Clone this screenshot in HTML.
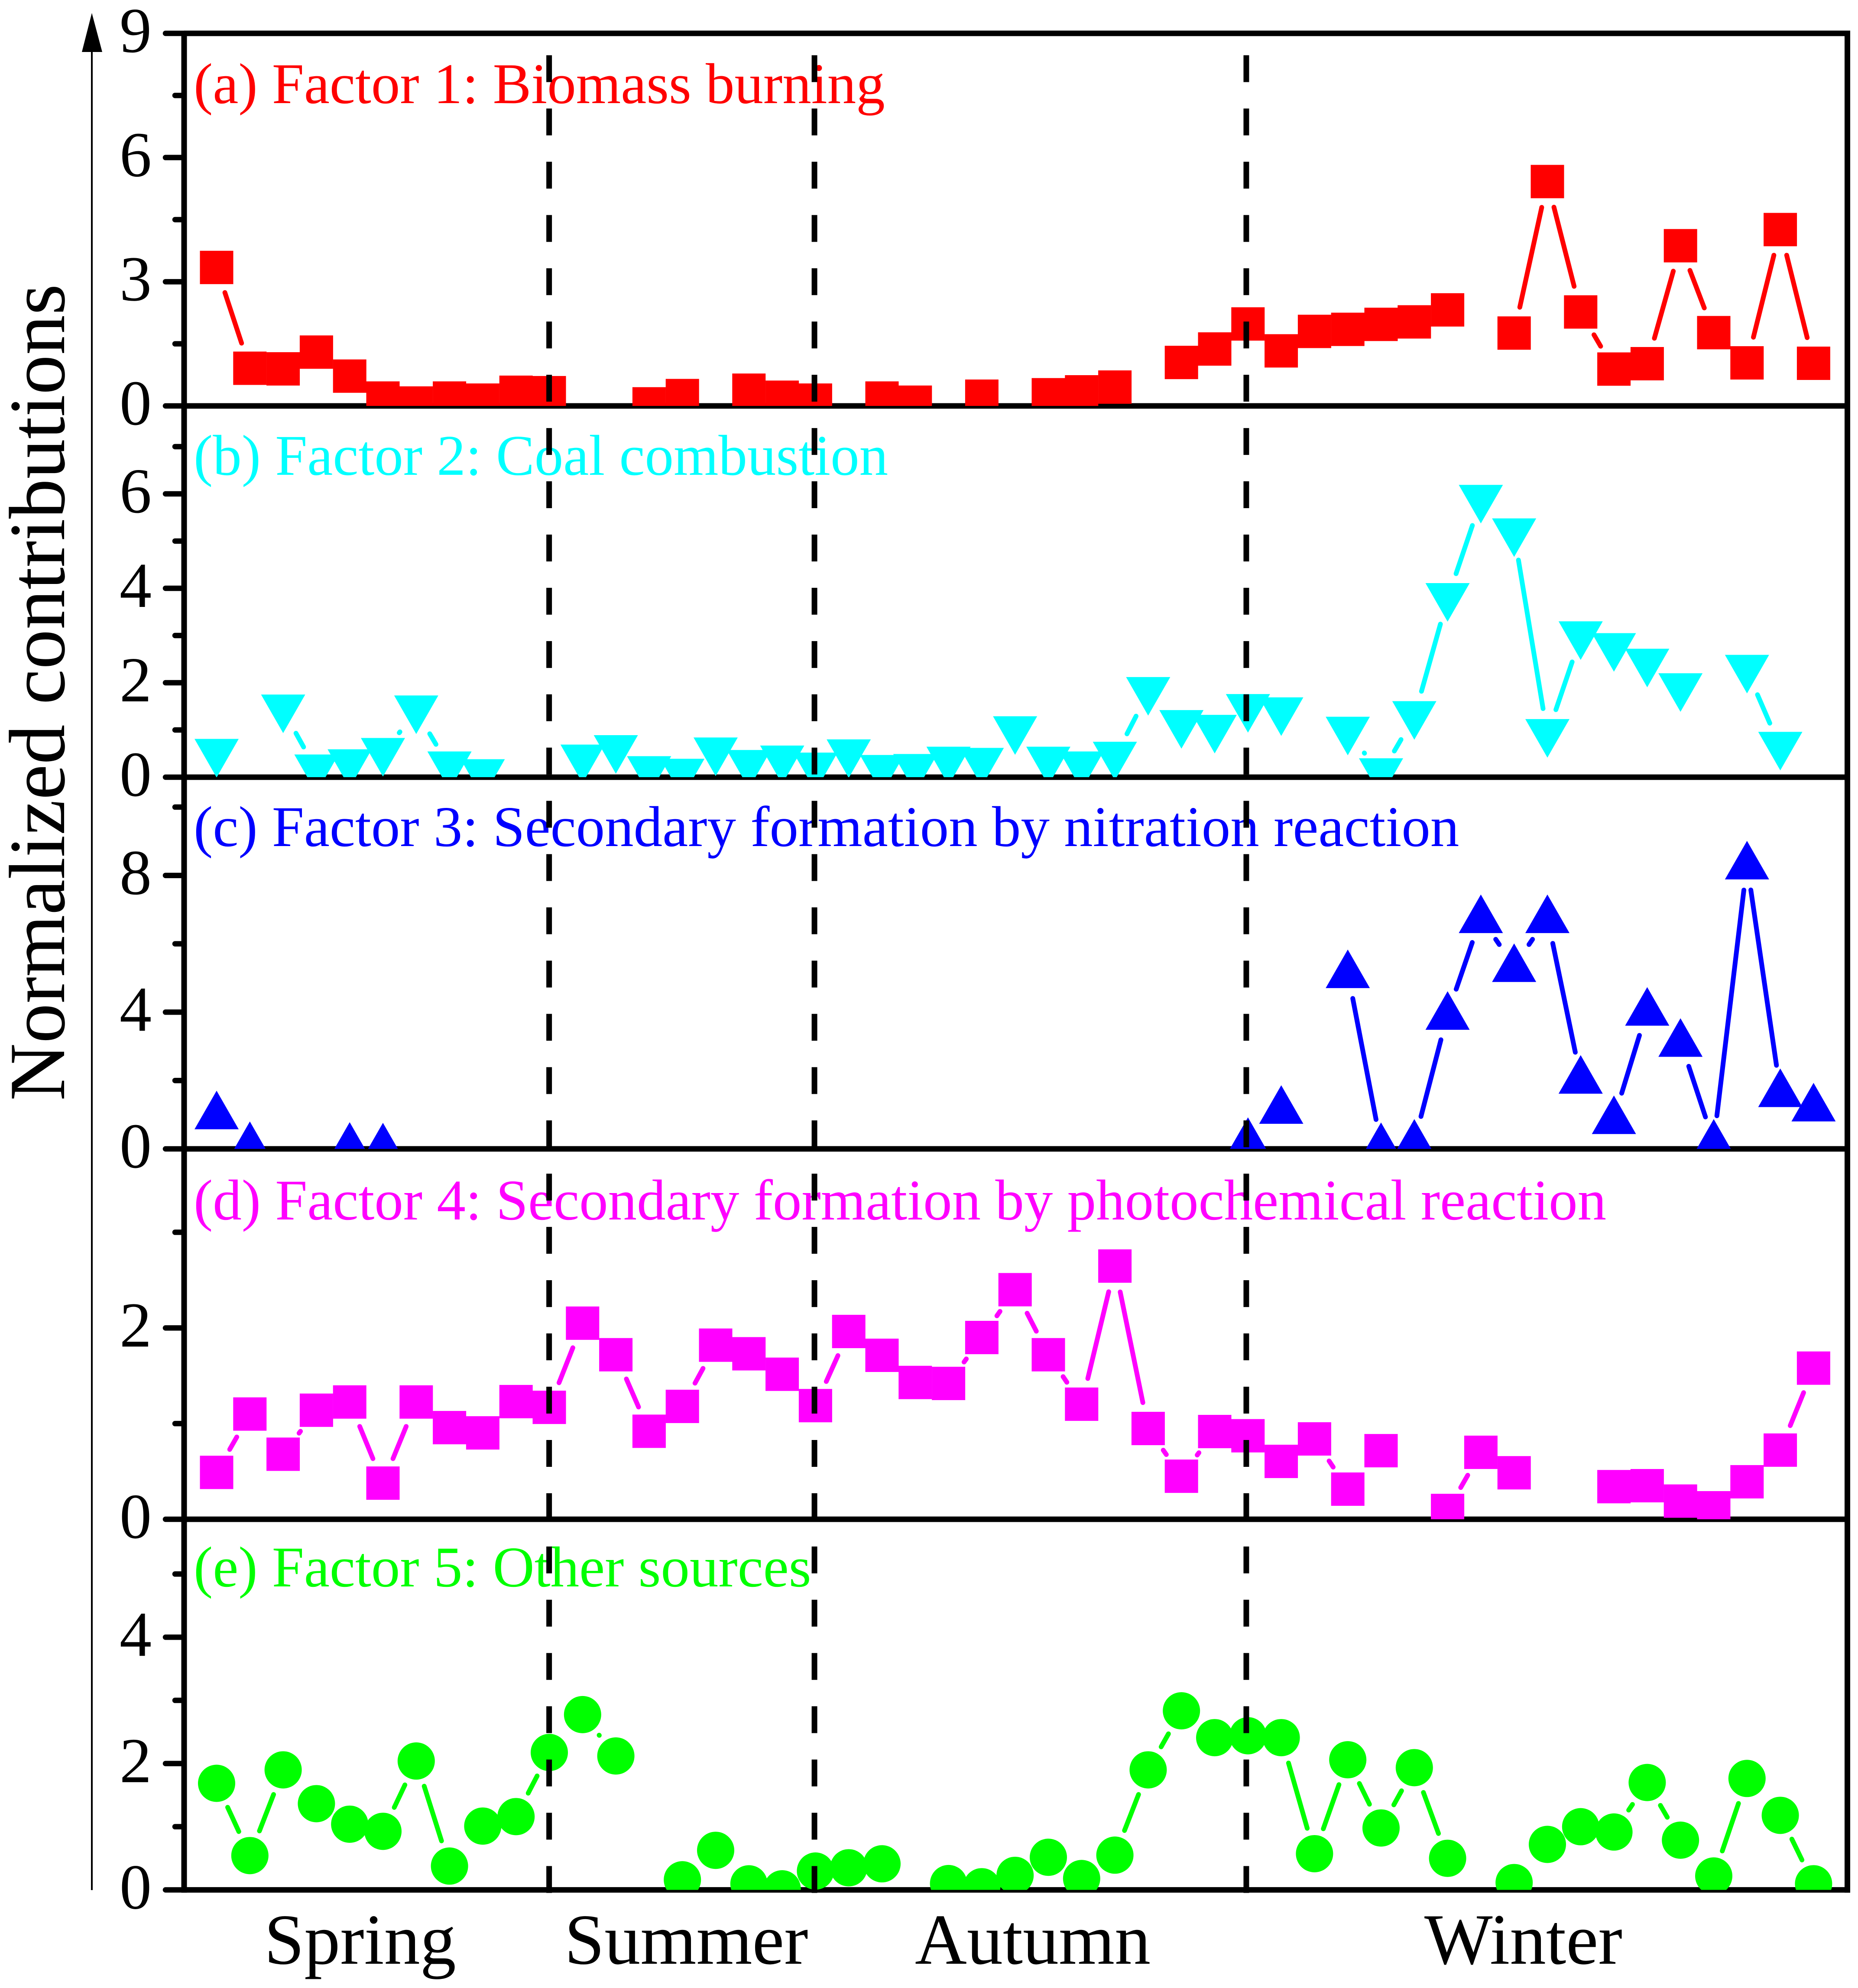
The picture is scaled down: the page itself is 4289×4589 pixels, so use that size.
<!DOCTYPE html>
<html lang="en">
<head>
<meta charset="utf-8">
<title>Normalized contributions of five factors by season</title>
<style>
html,body{margin:0;padding:0;background:#fff;}
svg{display:block;font-family:"Liberation Serif",serif;}
</style>
</head>
<body>
<svg id="chart" xmlns="http://www.w3.org/2000/svg" width="4289" height="4589" viewBox="0 0 4289 4589">
  <rect x="0" y="0" width="4289" height="4589" fill="#fff"/>
  <text transform="translate(148,2541) rotate(-90)" font-size="184" fill="#000">Normalized contributions</text>
  <line x1="212" y1="4363" x2="212" y2="110" stroke="#000" stroke-width="4"/>
  <polygon points="212,30 189,120 236,120" fill="#000"/>
  <g id="layer-text">
    <text x="447" y="238" font-size="133" fill="#ff0000">(a) Factor 1: Biomass burning</text>
    <text x="447" y="1096" font-size="133" fill="#00ffff">(b) Factor 2: Coal combustion</text>
    <text x="447" y="1953" font-size="133" fill="#0000ff">(c) Factor 3: Secondary formation by nitration reaction</text>
    <text x="447" y="2815" font-size="133" fill="#ff00ff">(d) Factor 4: Secondary formation by photochemical reaction</text>
    <text x="447" y="3662" font-size="133" fill="#00ff00">(e) Factor 5: Other sources</text>
  </g>
  <g id="layer-axes"></g>
  <g id="layer-series"></g>
  <g id="layer-dividers"></g>
  <g font-size="166" fill="#000">
    <text x="610" y="4533">Spring</text>
    <text x="1303" y="4533">Summer</text>
    <text x="2112" y="4533">Autumn</text>
    <text x="3288" y="4533" font-size="167">Winter</text>
  </g>
</svg>
<script>
// Series values by sample index; null = no sample drawn.
var factor1 = [3.345,0.91,0.895,1.30,0.72,0.19,0.07,0.19,0.14,0.33,0.32,null,null,0.05,0.25,null,0.38,0.21,0.14,null,0.19,0.09,null,0.235,null,0.27,0.34,0.455,null,1.05,1.375,1.98,1.33,1.80,1.85,1.97,2.03,2.32,null,1.76,5.42,2.27,0.89,1.02,3.87,1.77,1.04,4.26,1.03];
var factor2 = [0.48,null,1.42,0.15,0.26,0.50,1.40,0.215,0.05,null,null,0.36,0.56,0.115,0.06,0.51,0.245,0.34,0.19,0.47,0.14,0.16,0.315,0.29,0.96,0.315,0.215,0.42,1.79,1.09,0.99,1.43,1.36,null,0.95,0.07,1.28,3.78,5.86,5.15,0.90,2.97,2.72,2.39,1.87,null,2.26,0.63,null];
var factor3 = [1.03,0.13,null,null,0.11,0.09,null,null,null,null,null,null,null,null,null,null,null,null,null,null,null,null,null,null,null,null,null,null,null,null,null,0.25,1.19,null,5.16,0.10,0.20,3.94,6.77,5.34,6.77,2.07,0.89,4.06,3.15,0.20,8.34,1.68,1.26];
var factor4 = [0.49,1.10,0.68,1.14,1.226,0.378,1.226,0.958,0.903,1.23,1.17,2.05,1.72,0.92,1.18,1.82,1.73,1.516,1.188,1.963,1.714,1.43,1.42,1.90,2.40,1.72,1.203,2.647,0.949,0.45,0.917,0.873,0.605,0.84,0.315,0.717,null,0.092,0.70,0.486,null,null,0.341,0.351,0.19,0.12,0.392,0.723,1.58];
var factor5 = [1.687,0.543,1.90,1.365,1.04,0.927,2.04,0.377,1.01,1.16,2.175,2.775,2.12,null,0.16,0.626,0.096,0.017,0.298,0.35,0.413,null,0.10,0.05,0.23,0.516,0.18,0.55,1.90,2.835,2.41,2.44,2.41,0.573,2.06,0.98,1.935,0.50,null,0.116,0.72,1.00,0.916,1.70,0.787,0.22,1.764,1.18,0.097];

// Axis limits and ticks.
var yMaxes = [9, 7.862, 10.875, 3.872, 5.867];
var majorTicksA = [0,3,6,9];
var minorTicksA = [1.5,4.5,7.5];
var majorTicksB = [0,2,4,6];
var minorTicksB = [1,3,5,7];
var majorTicksC = [0,4,8];
var minorTicksC = [2,6,10];
var majorTicksD = [0,2];
var minorTicksD = [1,3];
var majorTicksE = [0,2,4];
var minorTicksE = [1,3,5];
var seasonDividers = [9.995, 17.97, 30.95];

var NS = 'http://www.w3.org/2000/svg';
var PLOT_LEFT = 425, PLOT_RIGHT = 4264.5;
var panelEdges = [77, 937, 1794, 2652, 3507, 4362.5];
var panelKeys = ['a','b','c','d','e'];
var colors = ['#ff0000','#00ffff','#0000ff','#ff00ff','#00ff00'];
var shapes = ['square','tri-down','tri-up','square','circle'];
var allSeries = [factor1, factor2, factor3, factor4, factor5];
var allMajor = [majorTicksA, majorTicksB, majorTicksC, majorTicksD, majorTicksE];
var allMinor = [minorTicksA, minorTicksB, minorTicksC, minorTicksD, minorTicksE];
var GAP = 61;
var GAP_MIN = 60.75;

function xAt(i){ return 500 + 76.8 * i; }
function yAt(p, v){
  var bottom = panelEdges[p + 1], top = panelEdges[p];
  return bottom - v / yMaxes[p] * (bottom - top);
}
function make(tag, parent, attrs){
  var el = document.createElementNS(NS, tag);
  for (var k in attrs) el.setAttribute(k, attrs[k]);
  parent.appendChild(el);
  return el;
}

var svg = document.getElementById('chart');
var axes = document.getElementById('layer-axes');
var seriesLayer = document.getElementById('layer-series');
var dividers = document.getElementById('layer-dividers');
var defs = make('defs', svg, {});

// Frame
var frame = make('path', axes, {d:'M' + PLOT_LEFT + ' 71V4369M' + PLOT_RIGHT + ' 71V4369', stroke:'#000', 'stroke-width':13, fill:'none'});



panelKeys.forEach(function(key, p){
  // clip markers at the bottom axis of each panel
  var clip = make('clipPath', defs, {id:'clip-' + key});
  make('rect', clip, {x:0, y:panelEdges[p], width:4289, height:panelEdges[p + 1] - panelEdges[p]});

  allMajor[p].forEach(function(t){
    var y = yAt(p, t);
    var tick = make('line', axes, {x1:382, y1:y, x2:PLOT_LEFT, y2:y, stroke:'#000', 'stroke-width':12.5, 'stroke-linecap':'round'});
    
    
    var label = make('text', axes, {x:350, y:y + 43, 'text-anchor':'end', 'font-size':148, fill:'#000'});
    label.textContent = String(t);
    
    
  });
  allMinor[p].forEach(function(t){
    var y = yAt(p, t);
    var tick = make('line', axes, {x1:404, y1:y, x2:PLOT_LEFT, y2:y, stroke:'#000', 'stroke-width':12.5, 'stroke-linecap':'round'});
    
    
  });
  // horizontal border at panel bottom
  var edge = make('line', axes, {x1:PLOT_LEFT, y1:panelEdges[p + 1], x2:PLOT_RIGHT + 6.5, y2:panelEdges[p + 1], stroke:'#000', 'stroke-width':12.7});
  
  
  if (p === 0) {
    var topEdge = make('line', axes, {x1:PLOT_LEFT, y1:panelEdges[0], x2:PLOT_RIGHT + 6.5, y2:panelEdges[0], stroke:'#000', 'stroke-width':12.7});
    
    
  }

  // Series
  var values = allSeries[p];
  var color = colors[p];
  var shape = shapes[p];
  var group = make('g', seriesLayer, {'clip-path':'url(#clip-' + key + ')'});
  
  

  // connecting lines, shortened near each symbol
  for (var i = 0; i + 1 < values.length; i++) {
    if (values[i] === null || values[i + 1] === null) continue;
    var x0 = xAt(i), y0 = yAt(p, values[i]);
    var x1 = xAt(i + 1), y1 = yAt(p, values[i + 1]);
    var dx = x1 - x0, dy = y1 - y0, len = Math.sqrt(dx * dx + dy * dy);
    if (len <= 2 * GAP_MIN) continue;
    var ux = dx / len, uy = dy / len;
    var g = Math.min(GAP, len / 2 - 0.01);
    var seg = make('line', group, {
      x1:x0 + ux * g, y1:y0 + uy * g,
      x2:x1 - ux * g, y2:y1 - uy * g,
      stroke:color, 'stroke-width':11, 'stroke-linecap':'round'
    });
    
    
  }

  // symbols
  values.forEach(function(v, idx){
    if (v === null) return;
    var cx = xAt(idx), cy = yAt(p, v), m;
    if (shape === 'square') {
      m = make('rect', group, {x:cx - 38.5, y:cy - 38.5, width:77, height:77, fill:color});
    } else if (shape === 'circle') {
      m = make('circle', group, {cx:cx, cy:cy, r:43, fill:color});
    } else if (shape === 'tri-down') {
      m = make('polygon', group, {points:(cx - 51) + ',' + (cy - 36) + ' ' + (cx + 51) + ',' + (cy - 36) + ' ' + cx + ',' + (cy + 53), fill:color});
    } else {
      m = make('polygon', group, {points:(cx - 51) + ',' + (cy + 36) + ' ' + (cx + 51) + ',' + (cy + 36) + ' ' + cx + ',' + (cy - 53), fill:color});
    }
    
    
  });
});

// Season dividers
seasonDividers.forEach(function(pos){
  var x = xAt(pos);
  var d = make('line', dividers, {x1:x, y1:127.5, x2:x, y2:4371, stroke:'#000', 'stroke-width':13, 'stroke-dasharray':'62 60.94'});
  
  
});
</script>
</body>
</html>
